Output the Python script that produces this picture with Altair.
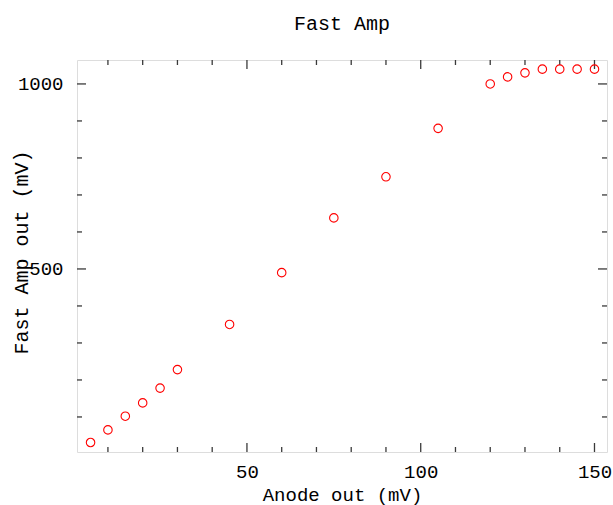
import altair as alt
import pandas as pd

anode_mv = [5, 10, 15, 20, 25, 30, 45, 60, 75, 90, 105, 120, 125, 130, 135, 140, 145, 150]
fast_amp_mv = [31, 65, 102, 138, 178, 228, 350, 490, 638, 749, 880, 1000, 1019, 1030, 1040, 1040, 1040, 1040]

x_minor = [10, 20, 30, 40, 60, 70, 80, 90, 110, 120, 130, 140]
x_major = [50, 100, 150]
y_minor = [100, 200, 300, 400, 600, 700, 800, 900]
y_major = [500, 1000]

X_DOMAIN = [1.1, 153.6]
Y_DOMAIN = [5.3, 1064.7]

W, H = 530, 392
FONT = "Liberation Mono"
FRAME = "#3a3a3a"

df = pd.DataFrame({"x": anode_mv, "y": fast_amp_mv})

xs = alt.Scale(domain=X_DOMAIN, nice=False, zero=False)
ys = alt.Scale(domain=Y_DOMAIN, nice=False, zero=False)

points = alt.Chart(df).mark_point(
    shape="circle", filled=False, color="#ff0000", size=72, strokeWidth=1.1, opacity=1
).encode(
    x=alt.X("x:Q", scale=xs, title="Anode out (mV)",
            axis=alt.Axis(values=x_major, format="d", ticks=False, domain=False, grid=False,
                          labelFont=FONT, labelFontSize=19, labelColor="#000",
                          labelPadding=10, titleFont=FONT, titleFontSize=19,
                          titleFontWeight="normal", titleColor="#000", titlePadding=4)),
    y=alt.Y("y:Q", scale=ys, title="Fast Amp out (mV)",
            axis=alt.Axis(values=y_major, format="d", ticks=False, domain=False, grid=False,
                          labelFont=FONT, labelFontSize=19, labelColor="#000",
                          labelPadding=14, titleFont=FONT, titleFontSize=20,
                          titleFontWeight="normal", titleColor="#000",
                          titleAngle=270, titleBaseline="middle", titleAlign="center",
                          titleX=-56, titleY=H / 2 - 4)),
)


def xticks(vals, length):
    d = pd.DataFrame({"x": vals})
    bottom = alt.Chart(d).mark_rule(color=FRAME, strokeWidth=1.3).encode(
        x=alt.X("x:Q", scale=xs), y=alt.value(H), y2=alt.value(H - length))
    top = alt.Chart(d).mark_rule(color=FRAME, strokeWidth=1.3).encode(
        x=alt.X("x:Q", scale=xs), y=alt.value(0), y2=alt.value(length))
    return [bottom, top]


def yticks(vals, length):
    d = pd.DataFrame({"y": vals})
    left = alt.Chart(d).mark_rule(color=FRAME, strokeWidth=1.3).encode(
        y=alt.Y("y:Q", scale=ys), x=alt.value(0), x2=alt.value(length))
    right = alt.Chart(d).mark_rule(color=FRAME, strokeWidth=1.3).encode(
        y=alt.Y("y:Q", scale=ys), x=alt.value(W), x2=alt.value(W - length))
    return [left, right]


layers = xticks(x_minor, 5) + xticks(x_major, 9) + yticks(y_minor, 5) + yticks(y_major, 9) + [points]

chart = alt.layer(*layers).properties(
    width=W, height=H,
    title=alt.TitleParams("Fast Amp", font=FONT, fontSize=20, fontWeight="normal",
                          color="#000", anchor="middle", offset=25),
    autosize=alt.AutoSizeParams(type="none"),
    padding={"left": 77, "top": 60, "right": 5, "bottom": 53},
).configure_view(
    stroke=FRAME, strokeWidth=1.5
).configure(background="white")

chart.save("out.html", embed_options={"renderer": "svg", "actions": False})
